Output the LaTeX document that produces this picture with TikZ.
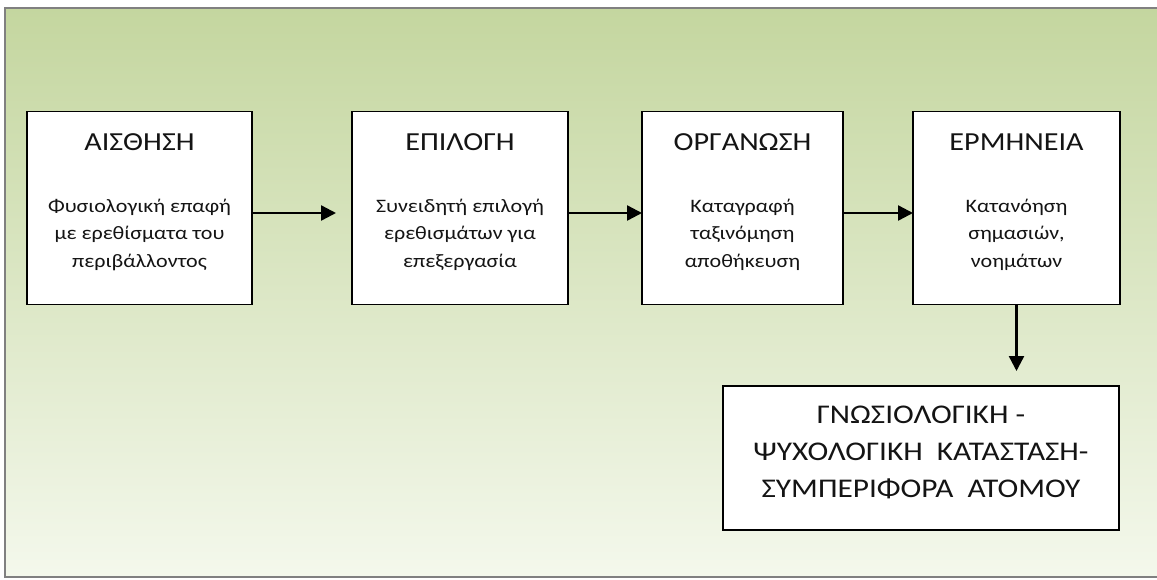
\documentclass[tikz,border=0pt]{standalone}
\usepackage{fontspec}
\setmainfont{Carlito}[FakeStretch=1.16]
\usetikzlibrary{arrows.meta}
\definecolor{bgtop}{RGB}{196,214,159}
\definecolor{bgbottom}{RGB}{244,248,236}
\definecolor{framegray}{RGB}{128,128,128}
\definecolor{ink}{RGB}{20,20,20}
\tikzset{
  stagebox/.style={draw=black, line width=1.8pt, fill=white, inner sep=0pt, outer sep=0pt},
  stagetitle/.style={anchor=base, text=ink, font=\fontsize{26}{30}\selectfont},
  stagetext/.style={anchor=base, text=ink, align=center, font=\fontsize{19}{27.5}\selectfont},
  resulttext/.style={anchor=base, text=ink, align=center, font=\fontsize{27}{37}\selectfont},
  flow/.style={draw=black, line width=2.4pt, -{Triangle[length=15pt,width=15pt]}}
}
\begin{document}
\begin{tikzpicture}[x=1pt, y=-1pt]
\useasboundingbox (0,0) rectangle (1157,579);
% background panel with vertical gradient
\shade[top color=bgtop, bottom color=bgbottom] (5,8) rectangle (1162,577);
\draw[framegray, line width=2.4pt] (1162,8) -- (5,8) -- (5,577) -- (1162,577);

% stage boxes
\node[stagebox, minimum width=225pt, minimum height=193pt] (s1) at (139.5,208) {};
\node[stagebox, minimum width=216pt, minimum height=193pt] (s2) at (460,208) {};
\node[stagebox, minimum width=201pt, minimum height=193pt] (s3) at (742.5,208) {};
\node[stagebox, minimum width=207pt, minimum height=193pt] (s4) at (1016.5,208) {};
\node[stagebox, minimum width=396pt, minimum height=144pt] (res) at (921,458) {};

% titles
\node[stagetitle] (t1) at (139.5,150) {ΑΙΣΘΗΣΗ};
\node[stagetitle] (t2) at (460,150) {ΕΠΙΛΟΓΗ};
\node[stagetitle] (t3) at (742.5,150) {ΟΡΓΑΝΩΣΗ};
\node[stagetitle] (t4) at (1016.5,150) {ΕΡΜΗΝΕΙΑ};

% descriptions (anchored at the baseline of their last line)
\node[stagetext] (d1) at (139.5,267) {Φυσιολογική επαφή\\με ερεθίσματα του\\περιβάλλοντος};
\node[stagetext] (d2) at (460,267) {Συνειδητή επιλογή\\ερεθισμάτων για\\επεξεργασία};
\node[stagetext] (d3) at (742.5,267) {Καταγραφή\\ταξινόμηση\\αποθήκευση};
\node[stagetext] (d4) at (1016.5,267) {Κατανόηση\\σημασιών,\\νοημάτων};

\node[resulttext] (r) at (921,497) {ΓΝΩΣΙΟΛΟΓΙΚΗ -\\ΨΥΧΟΛΟΓΙΚΗ\ \ ΚΑΤΑΣΤΑΣΗ-\\ΣΥΜΠΕΡΙΦΟΡΑ\ \ ΑΤΟΜΟΥ};

% connectors
\coordinate (row) at (0,213);
\draw[flow, shorten >=16pt] (s1.east |- row) -- (s2.west |- row);
\draw[flow] (s2.east |- row) -- (s3.west |- row);
\draw[flow] (s3.east |- row) -- (s4.west |- row);
\draw[flow, shorten >=15pt] (s4.south) -- (s4.south |- res.north);
\end{tikzpicture}
\end{document}
